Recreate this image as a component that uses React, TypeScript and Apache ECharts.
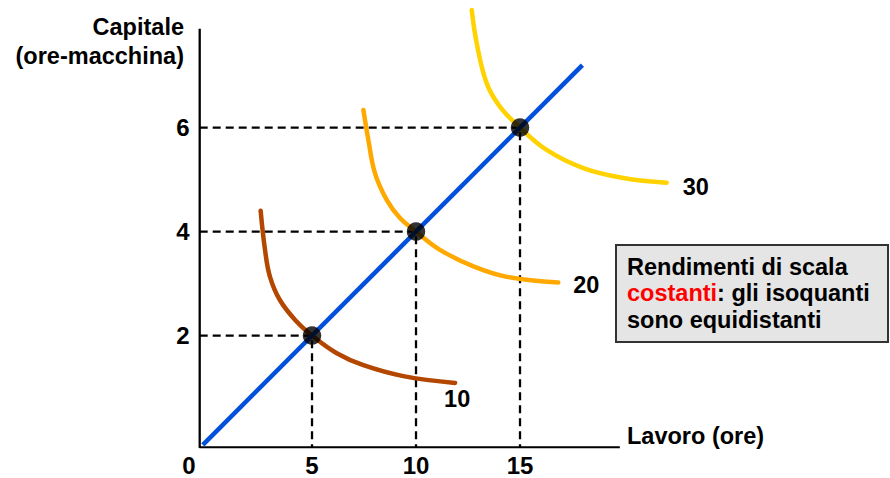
import React, { useEffect, useRef } from "react";
import * as echarts from "echarts";

// ---- data ----
const pointX = [5, 10, 15];
const pointY = [2, 4, 6];

const rayX = [-0.25, 18];
const rayY = [-0.1, 7.2];

const iso10X = [2.53, 2.74, 2.98, 3.46, 4.26, 5, 6.19, 7.47, 9.39, 11.88];
const iso10Y = [4.4, 3.65, 3.13, 2.68, 2.27, 2, 1.66, 1.43, 1.22, 1.09];
const iso20X = [7.47, 7.71, 8.03, 8.59, 9.23, 10, 11.15, 12.76, 14.36, 16.84];
const iso20Y = [6.34, 5.76, 5.12, 4.61, 4.26, 4, 3.65, 3.33, 3.13, 3.02];
const iso30X = [12.68, 12.92, 13.4, 14.04, 15, 16.28, 18.04, 19.97, 22.05];
const iso30Y = [8.26, 7.62, 6.85, 6.4, 6, 5.57, 5.22, 5.03, 4.94];

const isoLabels = ["10", "20", "30"];
const xTicks = [5, 10, 15];
const yTicks = [2, 4, 6];

const xMin = -0.4;
const xMax = 23;
const yMin = -0.15;
const yMax = 8.4;
const axisTopY = 7.9;
const axisRightX = 19.8;

const FONT = "'Liberation Sans', Arial, sans-serif";

const zip = (xs: number[], ys: number[]) => xs.map((x, i) => [x, ys[i]]);

export default function App() {
  const ref = useRef<HTMLDivElement>(null);
  useEffect(() => {
    document.body.style.margin = "0";
    if (!ref.current) return;
    const chart = echarts.init(ref.current, null, { renderer: "svg" });

    const dashed = pointX.map((x, i) => ({
      type: "line",
      data: [
        [xMin, pointY[i]],
        [x, pointY[i]],
        [x, yMin],
      ],
      showSymbol: false,
      symbol: "none",
      lineStyle: { color: "#000", width: 2.3, type: [8, 5] },
      z: 1,
      silent: true,
    }));

    const isoColors = ["#B34700", "#FFA800", "#FFD200"];
    const isoData = [zip(iso10X, iso10Y), zip(iso20X, iso20Y), zip(iso30X, iso30Y)];
    const isoOffsets = [
      [-11, 16],
      [15, 2],
      [16, 4],
    ];

    const isoSeries = isoData.map((d, i) => ({
      type: "line",
      data: d,
      smooth: 0.4,
      symbol: "none",
      showSymbol: false,
      lineStyle: { color: isoColors[i], width: 4.5, cap: "round" },
      z: 2,
      silent: true,
      endLabel: {
        show: true,
        formatter: () => isoLabels[i],
        distance: 0,
        offset: isoOffsets[i],
        color: "#000",
        fontSize: 23.5,
        fontWeight: "bold",
        fontFamily: FONT,
      },
    }));

    const tickLabel = {
      color: "#000",
      fontSize: 24,
      lineHeight: 20,
      fontWeight: "bold",
      fontFamily: FONT,
    };

    chart.setOption({
      animation: false,
      grid: {
        left: 199.7,
        top: 2.8,
        width: 486.7,
        height: 444.6,
        containLabel: false,
        outerBoundsMode: "none",
      },
      xAxis: {
        type: "value",
        min: xMin,
        max: xMax,
        axisLine: { show: false },
        axisTick: { show: false },
        splitLine: { show: false },
        axisLabel: { customValues: xTicks, margin: 8, ...tickLabel },
      },
      yAxis: {
        type: "value",
        min: yMin,
        max: yMax,
        axisLine: { show: false },
        axisTick: { show: false },
        splitLine: { show: false },
        axisLabel: { customValues: yTicks, margin: 10, ...tickLabel },
      },
      series: [
        {
          type: "line",
          data: [
            [xMin, axisTopY],
            [xMin, yMin],
            [axisRightX, yMin],
          ],
          symbol: "none",
          showSymbol: false,
          lineStyle: { color: "#000", width: 2.3 },
          z: 1,
          silent: true,
        },
        ...dashed,
        ...isoSeries,
        {
          type: "line",
          data: zip(rayX, rayY),
          symbol: "none",
          showSymbol: false,
          lineStyle: { color: "#0050DC", width: 4.5 },
          z: 3,
          silent: true,
        },
        {
          type: "scatter",
          data: zip(pointX, pointY),
          symbolSize: 18.5,
          itemStyle: { color: "#000" },
          z: 4,
          silent: true,
        },
      ],
      graphic: [
        {
          type: "text",
          x: 184,
          y: 12,
          style: {
            text: "Capitale\n(ore-macchina)",
            align: "right",
            verticalAlign: "top",
            font: `bold 23.5px ${FONT}`,
            lineHeight: 29,
            fill: "#000",
          },
        },
        {
          type: "text",
          x: 627,
          y: 436,
          style: {
            text: "Lavoro (ore)",
            align: "left",
            verticalAlign: "middle",
            font: `bold 23.5px ${FONT}`,
            fill: "#000",
          },
        },
        {
          type: "text",
          x: 189,
          y: 465.5,
          style: {
            text: "0",
            align: "center",
            verticalAlign: "middle",
            font: `bold 24px ${FONT}`,
            lineHeight: 20,
            fill: "#000",
          },
        },
        {
          type: "rect",
          shape: { x: 616, y: 245, width: 272, height: 97 },
          style: { fill: "#E5E5E5", stroke: "#333", lineWidth: 2 },
        },
        {
          type: "text",
          x: 627,
          y: 253.5,
          style: {
            text: "Rendimenti di scala\n{r|costanti}: gli isoquanti\nsono equidistanti",
            align: "left",
            verticalAlign: "top",
            fontSize: 23.5,
            fontWeight: "bold",
            fontFamily: FONT,
            lineHeight: 26.5,
            fill: "#000",
            rich: {
              r: {
                fill: "#FF0000",
                fontSize: 23.5,
                fontWeight: "bold",
                fontFamily: FONT,
                lineHeight: 26.5,
              },
            },
          },
        },
      ],
    });
    return () => chart.dispose();
  }, []);
  return <div ref={ref} style={{ width: 890, height: 478 }} />;
}
